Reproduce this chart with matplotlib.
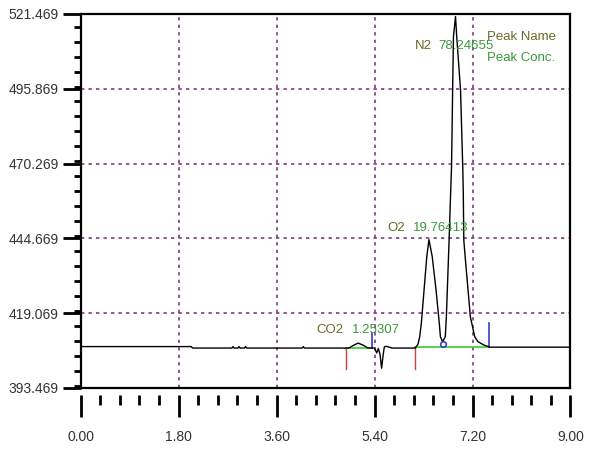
import matplotlib.pyplot as plt
from matplotlib.ticker import MultipleLocator, FixedLocator

plt.rcParams['font.family'] = ['Liberation Sans', 'DejaVu Sans']

# chromatogram trace (retention time, signal)
time = [0.00, 2.03, 2.06, 2.78, 2.80, 2.82, 2.89, 2.91, 2.93, 3.01, 3.03, 3.05,
        4.07, 4.09, 4.11, 4.87, 4.93, 5.00, 5.10, 5.20, 5.28, 5.40, 5.44, 5.47,
        5.50, 5.53, 5.56, 5.58, 5.62, 5.72, 6.15, 6.20, 6.23, 6.26, 6.31, 6.36,
        6.40, 6.46, 6.53, 6.59, 6.61, 6.65, 6.70, 6.72, 6.77, 6.80, 6.815, 6.835,
        6.85, 6.888, 6.91, 6.98, 7.02, 7.03, 7.04, 7.07, 7.16, 7.24, 7.30, 7.40,
        7.52, 9.00]
signal = [407.6, 407.6, 407.1, 407.1, 407.6, 407.1, 407.1, 407.6, 407.1, 407.1, 407.6, 407.1,
          407.1, 407.6, 407.1, 407.1, 407.1, 407.9, 408.8, 408.0, 407.1, 407.1, 405.4, 407.0,
          405.0, 400.2, 405.0, 407.5, 407.7, 407.1, 407.1, 408.5, 411.0, 415.6, 427.0, 438.4,
          444.2, 438.4, 427.0, 415.6, 411.0, 409.3, 411.0, 417.9, 444.1, 461.2, 469.5, 495.5,
          513.7, 520.6, 513.7, 495.5, 469.5, 461.2, 444.1, 437.3, 417.9, 411.0, 409.3, 408.2,
          407.4, 407.4]

# peak start (red) / end (blue) markers and integration baselines
start_t = [4.87, 6.15]
end_t = [5.36, 7.50]
end_top = [412.3, 415.8]
base_level = [407.1, 407.4]
valley_t = 6.65
valley_v = 408.6

peak_names = ['CO2', 'O2', 'N2']
peak_conc = ['1.25307', '19.76413', '78.24655']
name_t = [4.34, 5.645, 6.14]
conc_t = [4.98, 6.10, 6.58]
label_v = [413.3, 448.3, 510.4]

y_ticks = [393.469, 419.069, 444.669, 470.269, 495.869, 521.469]
x_ticks = [0.00, 1.80, 3.60, 5.40, 7.20, 9.00]

olive = '#6b6b2a'
green = '#3a9a3a'
grid_c = '#7a3d7a'
tick_txt = '#333333'

fig = plt.figure(figsize=(5.93, 4.51), dpi=100)
ax = fig.add_axes([0.136, 0.140, 0.826, 0.829])

ax.plot(time, signal, color='black', lw=1.0, zorder=3)

for s, e, top, b in zip(start_t, end_t, end_top, base_level):
    ax.plot([s, e], [b, b], color='#33cc33', lw=1.2, zorder=2)
    ax.plot([s, s], [b, 400.0], color='#c84040', lw=1.0, zorder=2)
    ax.plot([e, e], [b, top], color='#3a3acc', lw=1.2, zorder=2)
ax.plot([valley_t], [valley_v], marker='o', ms=4, mfc='none', mec='#3a3acc', mew=1.2, zorder=4)

for n, c, nt, ct, v in zip(peak_names, peak_conc, name_t, conc_t, label_v):
    ax.text(nt, v, n, color=olive, fontsize=9.5, ha='left', va='center')
    ax.text(ct, v, c, color=green, fontsize=9.5, ha='left', va='center')
ax.text(7.465, 513.6, 'Peak Name', color=olive, fontsize=9.5, ha='left', va='center')
ax.text(7.465, 506.3, 'Peak Conc.', color=green, fontsize=9.5, ha='left', va='center')

ax.set_xlim(0, 9)
ax.set_ylim(393.469, 521.469)

# dotted purple grid
for xv in x_ticks[1:-1]:
    ax.axvline(xv, color=grid_c, lw=1.2, ls=(0, (2, 2.5)), zorder=1)
for yv in y_ticks[1:-1]:
    ax.axhline(yv, color=grid_c, lw=1.2, ls=(0, (2, 2.5)), zorder=1)

for sp in ax.spines.values():
    sp.set_linewidth(1.6)

ax.yaxis.set_major_locator(FixedLocator(y_ticks))
ax.yaxis.set_minor_locator(MultipleLocator(5.12))
ax.set_yticklabels(['%.3f' % v for v in y_ticks])
ax.tick_params(axis='y', which='major', direction='out', length=13, width=2.0,
               labelsize=10, pad=3, labelcolor=tick_txt)
ax.tick_params(axis='y', which='minor', direction='out', length=5, width=2.0)

# x ticks sit a little below the frame
ax.tick_params(axis='x', which='both', bottom=False, labelbottom=False)
sx = ax.secondary_xaxis(-0.019)
sx.spines['bottom'].set_visible(False)
sx.xaxis.set_major_locator(FixedLocator(x_ticks))
sx.xaxis.set_minor_locator(MultipleLocator(0.36))
sx.set_xticklabels(['%.2f' % v for v in x_ticks])
sx.tick_params(axis='x', which='major', direction='out', length=16, width=2.0,
               labelsize=10, pad=9, labelcolor=tick_txt)
sx.tick_params(axis='x', which='minor', direction='out', length=7.5, width=2.0)

fig.savefig('out.png', dpi=100)
